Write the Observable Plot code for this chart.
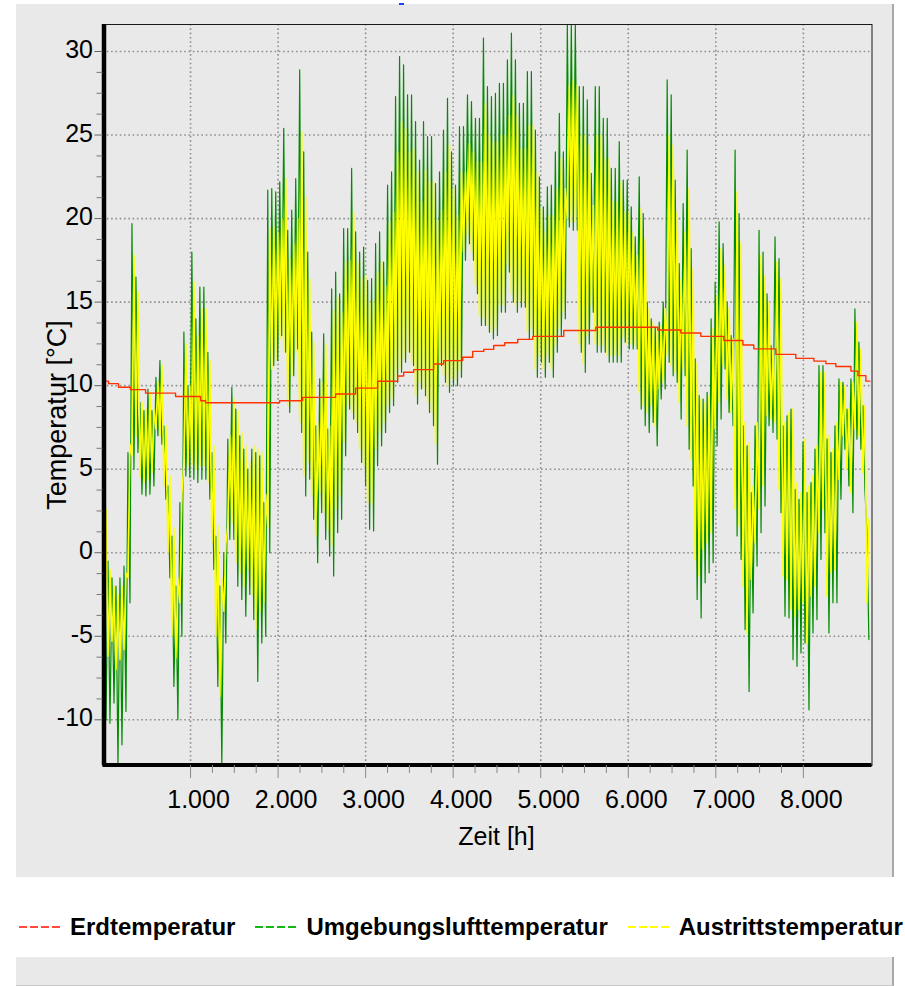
<!DOCTYPE html>
<html><head><meta charset="utf-8">
<script src="https://cdn.jsdelivr.net/npm/d3@7"></script>
<script src="https://cdn.jsdelivr.net/npm/@observablehq/plot@0.6"></script>
<style>
body{margin:0;background:#fff;font-family:"Liberation Sans",Arial,sans-serif}
#wrap{position:relative;width:905px;height:986px;overflow:hidden;background:#fff}
.panel{position:absolute;left:16px;width:876px;background:#e9e9e9;border-right:2px solid #a8a8a8}
#chart{position:absolute;left:0;top:0}
#legend{position:absolute;left:19px;top:914px;display:flex;align-items:center;gap:20px;white-space:nowrap}
.item{display:flex;align-items:center;gap:8px;font-weight:bold;font-size:24px;line-height:26px;color:#000}
</style></head>
<body><div id="wrap">
<div class="panel" style="top:4px;height:873px"></div>
<div class="panel" style="top:957px;height:28px;border-bottom:1px solid #c8c8c8"></div>
<div style="position:absolute;left:399px;top:3px;width:5px;height:2px;background:#2040ff"></div>
<div id="chart"></div>
<div id="legend"></div>
</div>
<script>
// ---------- data ----------
const seriesNames = ["Erdtemperatur", "Umgebungslufttemperatur", "Austrittstemperatur"];
const seriesColors = ["#ff3300", "#008c00", "#ffff00"];
const legendColors = ["#ff4a3a", "#14b814", "#ffff00"];

const yTicks = [-10, -5, 0, 5, 10, 15, 20, 25, 30];
const yMinor = [-8.75,-7.5,-6.25,-3.75,-2.5,-1.25,1.25,2.5,3.75,6.25,7.5,8.75,11.25,12.5,13.75,16.25,17.5,18.75,21.25,22.5,23.75,26.25,27.5,28.75];
const xTicks = [1000, 2000, 3000, 4000, 5000, 6000, 7000, 8000];
const xTickLabels = ["1.000", "2.000", "3.000", "4.000", "5.000", "6.000", "7.000", "8.000"];
const xMinor = [1250,1500,1750,2250,2500,2750,3250,3500,3750,4250,4500,4750,5250,5500,5750,6250,6500,6750,7250,7500,7750];
const xLabel = "Zeit [h]";
const yLabel = "Temperatur [°C]";
const hoursTotal = 8760;

// Erdtemperatur (step line): hour of step, temperature
const earthHours = [0,63,177,314,486,829,1114,1171,2017,2280,2657,2886,3137,3366,3434,3549,3777,3891,4109,4223,4349,4463,4589,4737,4909,5263,5629,6337,6600,6829,7091,7309,7434,7686,7914,8120,8257,8371,8543,8623,8714,8760];
const earthTemps = [10.27,10.12,9.9,9.76,9.55,9.35,9.1,8.98,9.1,9.3,9.5,9.85,10.26,10.58,10.8,10.96,11.3,11.5,11.7,12.05,12.17,12.4,12.57,12.77,12.95,13.3,13.5,13.33,13.15,12.95,12.7,12.43,12.2,11.87,11.63,11.47,11.32,11.15,10.87,10.6,10.27,10.27];

// Umgebungslufttemperatur: highs / lows of consecutive ~46 h blocks
const greenHi = [2.6,-0.5,-1.5,-2,-1.5,-0.8,6,19.7,16.5,9,
8.5,9.8,8.5,10.5,11.5,7.6,4,1,-2,3,
13.2,10,18,14,15.9,15.9,12,6,1,-2,
0,6.8,9.9,8.6,7,6.2,5,6.2,6,5.8,
3,21.7,21.8,21.6,22.2,25.4,19.3,20.5,22.4,28.9,
24,18,13.2,7.6,10.4,13.1,7.4,15.8,16.8,15.5,
19.4,19.4,23,19.2,18,18.3,16.3,16.4,18.5,19.2,
17.4,22,22.8,27.3,29.7,29.2,27.4,27.4,25.8,23.5,
25.8,24.9,24.9,22.1,22.8,25.3,27.2,24,22,25.5,
25.5,27.4,27,26,26,30.8,27.9,27.3,27.5,28.1,
28.1,29.5,31.1,29.5,26.9,26.9,28.8,28.8,25.3,22.5,
20.7,21.9,22,24,26.3,24,31.6,31.6,31.6,27.9,
27.9,27.1,22.7,27.9,27.9,26,26,23,23,24.6,
22.3,22.3,20.7,18.9,22.5,20.3,15,14,13.5,13.8,
15,28.3,27.4,22.3,17.3,20.9,24.1,18.2,11.6,9.4,
9.2,9.6,14,16.2,19.8,18.5,15,13,24.1,20.3,
7.6,6.4,3.6,7.6,19.3,18,15.5,12.4,18.9,17.6,
7.6,8.2,8.6,3.8,3.2,6.6,3.6,4.2,6.2,11.2,
11.2,6.8,6,7.6,10.4,10.2,8.6,10.4,14.6,12.6,
8.8,1.2];
const greenLo = [-10,-10.2,-9,-12.7,-11.5,-9.5,-3,5,6,3.5,
3.4,3.5,4,7,6.5,3.2,-1.5,-8,-10,-5,
4.6,4.5,4.4,4.2,4.4,4.4,3.2,-1,-8,-12.7,
-5.4,0.8,0.8,-2,-2.8,-3.8,-2.5,-4,-7.7,-5.4,
-5,0,11.2,11.5,13,12,8.4,10.6,12.2,7.2,
3.4,4.4,2,-0.6,2.4,0.8,-0.2,-1.4,1.2,2,
5.8,8.6,8,7.2,5.4,4,1.4,1.3,5.2,6.4,
7.2,8.4,8.8,10.2,10.8,11.4,12,11.2,8.9,9.8,
9.4,8.4,7.6,5.3,11.2,10.2,9.6,10,10,10.5,
17.5,18.5,17.5,15.5,13.6,13.6,13.2,12.8,13,14.4,
14.4,16.8,15,14.4,14.7,14.7,12.8,13,10.5,11.4,
10.5,11.4,10.5,12,13,14,19.5,19.3,19.3,12,
10.8,12.5,14.4,12,12,12,11.4,11.4,11.4,11.4,
12.6,12.2,12.2,12.2,8.6,7.6,7.2,7.8,6.4,9.2,
9.8,11.4,10.6,10.2,8,10.6,6.2,4,-2.8,-3.9,
-1.8,-1.2,-0.6,6.4,8,11,8.4,7.6,1,-0.4,
-4.6,-8.3,-3.6,-0.8,1.2,2.8,7.6,7.2,6.8,2.4,
-3.8,-3.9,-6.4,-6.8,-6,-5.4,-9.4,-4.8,-4,-0.4,
1.2,-4.8,-3,-3,3.2,6.2,4,2.4,6.8,6.2,
3.8,-5.2];

// Austrittstemperatur: highs / lows of the same blocks
const yellowHi = [2.6,-1,-2,-2.5,-2,-1.2,6.5,17.8,15.6,9,
8.6,9.6,8.6,10.2,11.2,7.6,4.6,1.5,-1.5,3.5,
12.5,10,16.2,13,14.6,14.6,11.5,6.4,1.6,-1.5,
0.5,7,9.2,8.5,7.2,6.4,5.4,6.4,6.2,6,
3.5,19.4,19.5,19.2,20,22.4,17.6,18.5,20,25.2,
21.3,16.4,12.6,7.8,10.2,12.5,7.6,14.5,15.3,14.4,
17.4,17.5,20.4,17.4,16.4,16.6,15,15.1,16.8,17.4,
16,19.8,20.4,24,25.8,25.4,24,24.2,22.8,21,
22.9,22.2,22.2,19.9,20.5,22.8,24.4,21.8,20.2,22.8,
22.8,24.5,24,23.4,23.4,26.9,25,24.6,24.6,25,
25,26.2,27.4,26.2,24.2,24.2,25.6,25.6,22.8,20.6,
19.2,20.2,20.2,21.8,23.6,21.8,28,28.3,28,25,
25,24.4,20.8,25,25,23.6,23.6,21,21,22.2,
20.4,20.4,19.2,17.8,20.6,18.8,14.6,13.8,13.4,13.6,
14.6,25,24.4,20.4,16.4,19.2,21.8,17,11.4,9.2,
9,9.4,13.4,15.4,18.2,17.2,14.6,12.8,21.6,18.6,
7.8,6.6,4,7.8,17.8,16.6,15,12.2,17.4,16.4,
7.8,8.4,8.6,4.2,3.6,6.8,4,4.6,6.4,10.8,
10.8,7,6.2,7.8,10.2,10,8.6,10.2,13.8,12.2,
8.8,2];
const yellowLo = [-6,-6.2,-5.3,-7,-6.4,-5.8,-1.5,5.8,7,4.5,
4.2,4.4,4.8,7.4,7,4,0,-5,-6.3,-3,
5.4,5.2,5.3,5,5.2,5.2,4.2,0.6,-5,-8.6,
-3.5,1.6,1.8,-0.6,-1.2,-2,-1,-2.5,-4.6,-3.5,
-3,1.5,11,11.5,12.8,12,8.8,10.6,12,7.8,
4.6,5.4,3.4,1,3.6,2.4,1.4,0.4,2.6,3.4,
6.6,8.8,8.4,7.8,6.2,5.2,3,2.9,6.2,7.2,
7.8,8.8,9.2,10.4,11,11.6,12,11.4,9.4,10.2,
9.8,9,8.4,6.5,11.3,10.6,10,10.4,10.4,10.9,
18,19,18,16,14.2,14,13.6,13.2,13.4,14.8,
14.8,17.2,15.5,14.8,15,15,13.2,13.4,11,11.8,
11,11.8,11,12.4,13.4,14.4,20,19.8,19.8,12.5,
11.3,13,14.8,12.5,12.4,12.4,11.8,11.8,11.8,11.8,
12.9,12.5,12.5,12.4,9.6,8.8,8.4,8.8,7.6,9.8,
10.2,11.8,11.2,10.8,9,11,7.6,5.6,-0.4,-1.4,
0.2,0.6,1.2,7.4,9,11.2,9.2,8.4,2.6,1.6,
-2,-4.8,-1.6,0.6,2.6,4,8.2,8,7.8,3.8,
-1.4,-1.6,-3.4,-3.8,-3.4,-3,-5.4,-2.6,-2,1.2,
2.6,-2.6,-1.2,-1,4.4,7,5,3.6,7.4,7,
4.8,-3];

// ---------- build tables ----------
const step = hoursTotal / greenHi.length;
const green = greenHi.flatMap((h, i) => [{t: (i + 0.25) * step, v: h}, {t: (i + 0.75) * step, v: greenLo[i]}]);
const yellow = yellowHi.flatMap((h, i) => [{t: (i + 0.25) * step, v: yellowLo[i]}, {t: (i + 0.75) * step, v: h}]);
const earth = earthHours.map((t, i) => ({t, v: earthTemps[i]}));

const yMin = -12.735, yMax = 31.616;
const grid = {stroke: "#8f8f8f", strokeWidth: 1.6, strokeDasharray: "1.6,2.7"};

const chart = Plot.plot({
  width: 905, height: 880,
  marginLeft: 102.5, marginRight: 33.5, marginTop: 24, marginBottom: 115,
  x: {domain: [0, 8784], label: null},
  y: {domain: [yMin, yMax], label: null},
  style: {background: "transparent", fontFamily: '"Liberation Sans", Arial, sans-serif', fontSize: "25px", color: "#000", overflow: "visible"},
  marks: [
    Plot.ruleY(yTicks, grid),
    Plot.ruleX(xTicks, grid),
    Plot.line(green, {x: "t", y: "v", stroke: seriesColors[1], strokeWidth: 1.2, clip: true}),
    Plot.line(yellow, {x: "t", y: "v", stroke: seriesColors[2], strokeWidth: 1.5, clip: true}),
    Plot.line(earth, {x: "t", y: "v", stroke: seriesColors[0], strokeWidth: 1.4, curve: "step-after"}),
    Plot.frame({stroke: "#1a1a1a", strokeWidth: 1}),
    Plot.ruleX([0], {stroke: "#000", strokeWidth: 4.5, dx: 1}),
    Plot.ruleY([yMin], {stroke: "#000", strokeWidth: 4, dy: -0.5}),
    Plot.axisY({ticks: yMinor, tickSize: 6, tickFormat: () => "", stroke: "#777", label: null}),
    Plot.axisY({ticks: yTicks, tickSize: 8, tickFormat: () => "", stroke: "#666", label: null}),
    Plot.axisY({ticks: yTicks, tickSize: 0, tickPadding: 10, tickFormat: d => String(d), fontSize: 25, dy: -1.5, label: null}),
    Plot.axisX({ticks: xMinor, tickSize: 8, tickFormat: () => "", stroke: "#888", label: null}),
    Plot.axisX({ticks: xTicks, tickSize: 13, tickFormat: () => "", stroke: "#888", label: null}),
    Plot.axisX({ticks: xTicks, tickSize: 0, tickPadding: 25, tickFormat: d => xTickLabels[xTicks.indexOf(d)], fontSize: 25, dx: 8, label: null}),
    Plot.text([yLabel], {text: d => d, frameAnchor: "left", textAnchor: "middle", dx: -45.5, dy: 20, rotate: -90, fontSize: 27, fill: "#000"}),
    Plot.text([xLabel], {text: d => d, frameAnchor: "bottom", textAnchor: "middle", dx: 9, dy: 79, fontSize: 25, fill: "#000"})
  ]
});
document.getElementById("chart").appendChild(chart);

// ---------- legend ----------
const legend = document.getElementById("legend");
seriesNames.forEach((name, i) => {
  const item = document.createElement("div");
  item.className = "item";
  item.innerHTML = `<svg width="43" height="6"><line x1="0" y1="3" x2="43" y2="3" stroke="${legendColors[i]}" stroke-width="2" stroke-dasharray="8,3"/></svg><span>${name}</span>`;
  legend.appendChild(item);
});
</script>
</body></html>
